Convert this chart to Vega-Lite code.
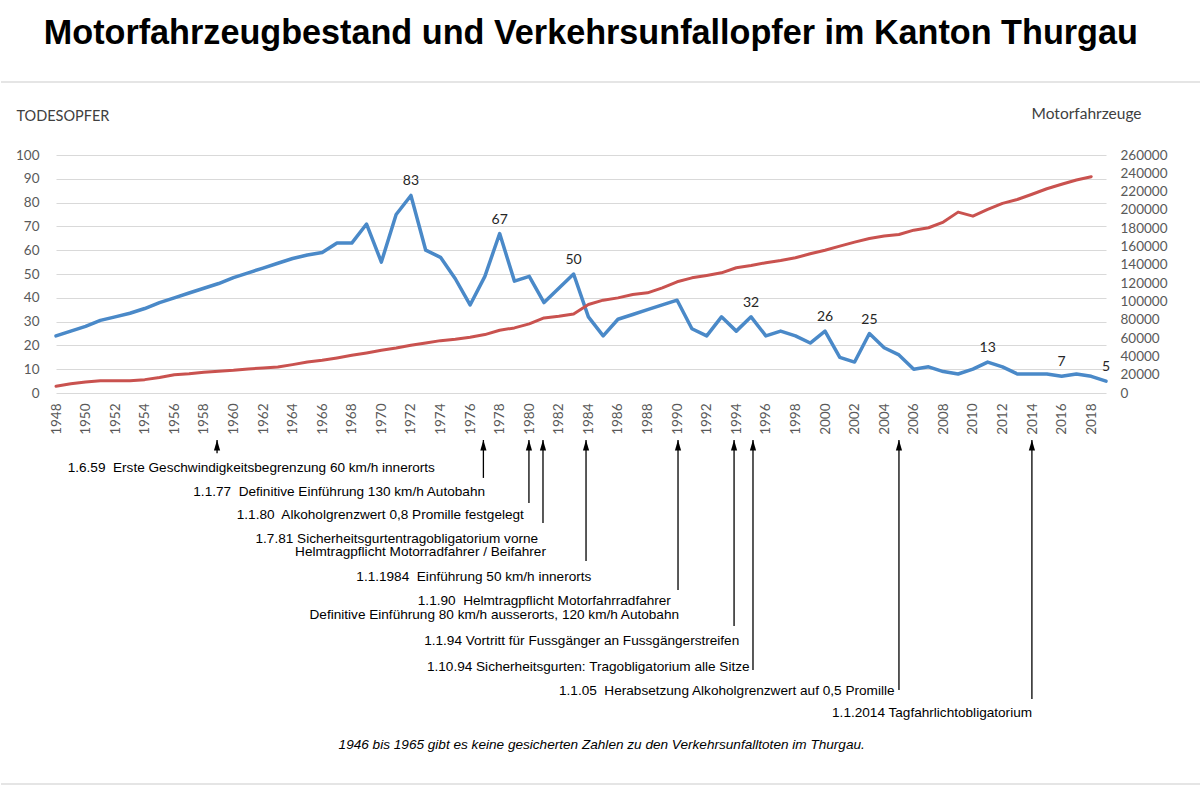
{
  "$schema": "https://vega.github.io/schema/vega-lite/v6.json",
  "background": "white",
  "padding": {"left": 0, "top": 16, "right": 0, "bottom": 5},
  "title": {
    "text": "Motorfahrzeugbestand und Verkehrsunfallopfer im Kanton Thurgau",
    "font": "Liberation Sans",
    "fontSize": 34.2,
    "fontWeight": "bold",
    "color": "#000000",
    "anchor": "middle",
    "dx": -10,
    "offset": 30
  },
  "spacing": 4,
  "config": {
    "view": {"stroke": null},
    "axis": {"labelFont": "Lato", "titleFont": "Lato"}
  },
  "vconcat": [
    {
      "width": 1050,
      "height": 238,
      "data": {
        "values": [
          {"jahr": 1948, "todesopfer": 24, "fahrzeuge": 7300},
          {"jahr": 1949, "todesopfer": 26, "fahrzeuge": 10000},
          {"jahr": 1950, "todesopfer": 28, "fahrzeuge": 12000},
          {"jahr": 1951, "todesopfer": 30.5, "fahrzeuge": 13500},
          {"jahr": 1952, "todesopfer": 32, "fahrzeuge": 13500},
          {"jahr": 1953, "todesopfer": 33.5, "fahrzeuge": 13500},
          {"jahr": 1954, "todesopfer": 35.5, "fahrzeuge": 14600},
          {"jahr": 1955, "todesopfer": 38, "fahrzeuge": 17000},
          {"jahr": 1956, "todesopfer": 40, "fahrzeuge": 20000},
          {"jahr": 1957, "todesopfer": 42, "fahrzeuge": 21000},
          {"jahr": 1958, "todesopfer": 44, "fahrzeuge": 22600},
          {"jahr": 1959, "todesopfer": 46, "fahrzeuge": 23700},
          {"jahr": 1960, "todesopfer": 48.5, "fahrzeuge": 24800},
          {"jahr": 1961, "todesopfer": 50.5, "fahrzeuge": 26300},
          {"jahr": 1962, "todesopfer": 52.5, "fahrzeuge": 27300},
          {"jahr": 1963, "todesopfer": 54.5, "fahrzeuge": 28400},
          {"jahr": 1964, "todesopfer": 56.5, "fahrzeuge": 31000},
          {"jahr": 1965, "todesopfer": 58, "fahrzeuge": 33900},
          {"jahr": 1966, "todesopfer": 59, "fahrzeuge": 35700},
          {"jahr": 1967, "todesopfer": 63, "fahrzeuge": 38300},
          {"jahr": 1968, "todesopfer": 63, "fahrzeuge": 41200},
          {"jahr": 1969, "todesopfer": 71, "fahrzeuge": 43800},
          {"jahr": 1970, "todesopfer": 55, "fahrzeuge": 46700},
          {"jahr": 1971, "todesopfer": 75, "fahrzeuge": 49200},
          {"jahr": 1972, "todesopfer": 83, "fahrzeuge": 52100},
          {"jahr": 1973, "todesopfer": 60, "fahrzeuge": 54700},
          {"jahr": 1974, "todesopfer": 57, "fahrzeuge": 57200},
          {"jahr": 1975, "todesopfer": 48, "fahrzeuge": 58700},
          {"jahr": 1976, "todesopfer": 37, "fahrzeuge": 60900},
          {"jahr": 1977, "todesopfer": 49, "fahrzeuge": 63800},
          {"jahr": 1978, "todesopfer": 67, "fahrzeuge": 68600},
          {"jahr": 1979, "todesopfer": 47, "fahrzeuge": 71100},
          {"jahr": 1980, "todesopfer": 49, "fahrzeuge": 75500},
          {"jahr": 1981, "todesopfer": 38, "fahrzeuge": 82000},
          {"jahr": 1982, "todesopfer": 44, "fahrzeuge": 83900},
          {"jahr": 1983, "todesopfer": 50, "fahrzeuge": 86400},
          {"jahr": 1984, "todesopfer": 32, "fahrzeuge": 96700},
          {"jahr": 1985, "todesopfer": 24, "fahrzeuge": 101400},
          {"jahr": 1986, "todesopfer": 31, "fahrzeuge": 103900},
          {"jahr": 1987, "todesopfer": 33, "fahrzeuge": 107600},
          {"jahr": 1988, "todesopfer": 35, "fahrzeuge": 109400},
          {"jahr": 1989, "todesopfer": 37, "fahrzeuge": 114900},
          {"jahr": 1990, "todesopfer": 39, "fahrzeuge": 121500},
          {"jahr": 1991, "todesopfer": 27, "fahrzeuge": 125800},
          {"jahr": 1992, "todesopfer": 24, "fahrzeuge": 128400},
          {"jahr": 1993, "todesopfer": 32, "fahrzeuge": 131300},
          {"jahr": 1994, "todesopfer": 26, "fahrzeuge": 136800},
          {"jahr": 1995, "todesopfer": 32, "fahrzeuge": 139300},
          {"jahr": 1996, "todesopfer": 24, "fahrzeuge": 142300},
          {"jahr": 1997, "todesopfer": 26, "fahrzeuge": 144800},
          {"jahr": 1998, "todesopfer": 24, "fahrzeuge": 147700},
          {"jahr": 1999, "todesopfer": 21, "fahrzeuge": 152100},
          {"jahr": 2000, "todesopfer": 26, "fahrzeuge": 156000},
          {"jahr": 2001, "todesopfer": 15, "fahrzeuge": 160400},
          {"jahr": 2002, "todesopfer": 13, "fahrzeuge": 164800},
          {"jahr": 2003, "todesopfer": 25, "fahrzeuge": 168800},
          {"jahr": 2004, "todesopfer": 19, "fahrzeuge": 171400},
          {"jahr": 2005, "todesopfer": 16, "fahrzeuge": 173200},
          {"jahr": 2006, "todesopfer": 10, "fahrzeuge": 177900},
          {"jahr": 2007, "todesopfer": 11, "fahrzeuge": 180500},
          {"jahr": 2008, "todesopfer": 9, "fahrzeuge": 186700},
          {"jahr": 2009, "todesopfer": 8, "fahrzeuge": 197600},
          {"jahr": 2010, "todesopfer": 10, "fahrzeuge": 193200},
          {"jahr": 2011, "todesopfer": 13, "fahrzeuge": 200500},
          {"jahr": 2012, "todesopfer": 11, "fahrzeuge": 207200},
          {"jahr": 2013, "todesopfer": 8, "fahrzeuge": 211400},
          {"jahr": 2014, "todesopfer": 8, "fahrzeuge": 217100},
          {"jahr": 2015, "todesopfer": 8, "fahrzeuge": 223100},
          {"jahr": 2016, "todesopfer": 7, "fahrzeuge": 228000},
          {"jahr": 2017, "todesopfer": 8, "fahrzeuge": 232700},
          {"jahr": 2018, "todesopfer": 7, "fahrzeuge": 236300},
          {"jahr": 2019, "todesopfer": 5, "fahrzeuge": null}
        ]
      },
      "encoding": {
        "x": {
          "field": "jahr",
          "type": "quantitative",
          "scale": {"domain": [1948, 2019], "nice": false, "zero": false},
          "axis": {
            "title": null,
            "values": [1948, 1950, 1952, 1954, 1956, 1958, 1960, 1962, 1964, 1966, 1968, 1970, 1972, 1974, 1976, 1978, 1980, 1982, 1984, 1986, 1988, 1990, 1992, 1994, 1996, 1998, 2000, 2002, 2004, 2006, 2008, 2010, 2012, 2014, 2016, 2018],
            "format": "d",
            "labelAngle": -90,
            "labelFlush": false,
            "labelOverlap": false,
            "labelPadding": 10,
            "labelFontSize": 13.5,
            "labelColor": "#595959",
            "grid": false,
            "ticks": false,
            "domain": false
          }
        }
      },
      "layer": [
        {
          "encoding": {
            "y": {
              "field": "todesopfer",
              "type": "quantitative",
              "scale": {"domain": [0, 100], "nice": false},
              "axis": {
                "title": "TODESOPFER",
                "titleAngle": 0,
                "titleAlign": "left",
                "titleBaseline": "alphabetic",
                "titleX": -40,
                "titleY": -35,
                "titleFontSize": 14.5,
                "titleFontWeight": "normal",
                "titleColor": "#404040",
                "values": [0, 10, 20, 30, 40, 50, 60, 70, 80, 90, 100],
                "labelOverlap": false,
                "labelPadding": 17,
                "labelFontSize": 13.5,
                "labelColor": "#595959",
                "grid": true,
                "gridColor": "#d9d9d9",
                "gridWidth": 1.2,
                "ticks": false,
                "domain": false
              }
            }
          },
          "layer": [
            {
              "data": {"values": [{"jahr": 1944.28, "jahr_ende": 2025.4, "todesopfer": 130.7}]},
              "mark": {"type": "rule", "color": "#dcdcdc", "strokeWidth": 1.5},
              "encoding": {
                "x2": {"field": "jahr_ende"}
              }
            },
            {
              "mark": {"type": "line", "color": "#4a89c8", "strokeWidth": 3.5, "strokeJoin": "round", "strokeCap": "round"}
            },
            {
              "transform": [{"filter": {"field": "jahr", "oneOf": [1972, 1978, 1983, 1995, 2000, 2003, 2011, 2016, 2019]}}],
              "mark": {"type": "text", "font": "Lato", "fontSize": 14, "color": "#262626", "dy": -14},
              "encoding": {
                "text": {"field": "todesopfer", "type": "quantitative"}
              }
            }
          ]
        },
        {
          "mark": {"type": "line", "color": "#c9524f", "strokeWidth": 3, "strokeJoin": "round", "strokeCap": "round"},
          "encoding": {
            "y": {
              "field": "fahrzeuge",
              "type": "quantitative",
              "scale": {"domain": [0, 260000], "nice": false},
              "axis": {
                "orient": "right",
                "title": "Motorfahrzeuge",
                "titleAngle": 0,
                "titleAlign": "right",
                "titleBaseline": "alphabetic",
                "titleX": 35,
                "titleY": -37,
                "titleFontSize": 15.5,
                "titleFontWeight": "normal",
                "titleColor": "#404040",
                "values": [0, 20000, 40000, 60000, 80000, 100000, 120000, 140000, 160000, 180000, 200000, 220000, 240000, 260000],
                "format": "d",
                "labelOverlap": false,
                "labelPadding": 14,
                "labelFontSize": 13.5,
                "labelColor": "#595959",
                "grid": false,
                "ticks": false,
                "domain": false
              }
            }
          }
        }
      ],
      "resolve": {"scale": {"y": "independent"}}
    },
    {
      "width": 1050,
      "height": 312,
      "layer": [
        {
          "data": {
            "values": [
              {"stichtag": "1.6.59", "jahr": 1958.89, "von": 0, "bis": 0.55},
              {"stichtag": "1.1.77", "jahr": 1976.9, "von": 0, "bis": 1.58},
              {"stichtag": "1.1.80", "jahr": 1979.98, "von": 0, "bis": 2.62},
              {"stichtag": "1.7.81", "jahr": 1980.93, "von": 0, "bis": 3.46},
              {"stichtag": "1.1.1984", "jahr": 1983.84, "von": 0, "bis": 5.04},
              {"stichtag": "1.1.90", "jahr": 1990.06, "von": 0, "bis": 6.25},
              {"stichtag": "1.1.94", "jahr": 1993.85, "von": 0, "bis": 7.75},
              {"stichtag": "1.10.94", "jahr": 1995.13, "von": 0, "bis": 9.58},
              {"stichtag": "1.1.05", "jahr": 2005.0, "von": 0, "bis": 10.42},
              {"stichtag": "1.1.2014", "jahr": 2013.99, "von": 0, "bis": 10.79}
            ]
          },
          "layer": [
            {
              "mark": {"type": "rule", "color": "#000000", "strokeWidth": 1.3},
              "encoding": {
                "x": {"field": "jahr", "type": "quantitative", "scale": {"domain": [1948, 2019], "nice": false, "zero": false}, "axis": null},
                "y": {"field": "von", "type": "quantitative", "scale": {"domain": [0, 13], "reverse": true, "nice": false, "zero": false}, "axis": null},
                "y2": {"field": "bis"}
              }
            },
            {
              "mark": {"type": "point", "shape": "M0,0L0.62,2.1L-0.62,2.1Z", "filled": true, "color": "#000000", "opacity": 1, "size": 100},
              "encoding": {
                "x": {"field": "jahr", "type": "quantitative"},
                "y": {"field": "von", "type": "quantitative"}
              }
            }
          ]
        },
        {
          "data": {
            "values": [
              {"beschriftung": "1.1.77\u00a0 Definitive Einführung 130 km/h Autobahn", "jahr": 1977.01, "ebene": 2.17},
              {"beschriftung": "1.1.80\u00a0 Alkoholgrenzwert 0,8 Promille festgelegt", "jahr": 1979.64, "ebene": 3.125},
              {"beschriftung": "1.7.81 Sicherheitsgurtentragobligatorium vorne", "jahr": 1980.6, "ebene": 4.125},
              {"beschriftung": "Helmtragpflicht Motorradfahrer / Beifahrer", "jahr": 1981.13, "ebene": 4.67},
              {"beschriftung": "1.1.1984\u00a0 Einführung 50 km/h innerorts", "jahr": 1984.2, "ebene": 5.71},
              {"beschriftung": "1.1.90\u00a0 Helmtragpflicht Motorfahrradfahrer", "jahr": 1989.58, "ebene": 6.69},
              {"beschriftung": "Definitive Einführung 80 km/h ausserorts, 120 km/h Autobahn", "jahr": 1990.13, "ebene": 7.29},
              {"beschriftung": "1.1.94 Vortritt für Fussgänger an Fussgängerstreifen", "jahr": 1994.2, "ebene": 8.375},
              {"beschriftung": "1.10.94 Sicherheitsgurten: Tragobligatorium alle Sitze", "jahr": 1994.9, "ebene": 9.46},
              {"beschriftung": "1.1.05\u00a0 Herabsetzung Alkoholgrenzwert auf 0,5 Promille", "jahr": 2004.7, "ebene": 10.46},
              {"beschriftung": "1.1.2014 Tagfahrlichtobligatorium", "jahr": 2014.0, "ebene": 11.375}
            ]
          },
          "mark": {"type": "text", "align": "right", "baseline": "middle", "font": "Liberation Sans", "fontSize": 13.6, "color": "#000000"},
          "encoding": {
            "x": {"field": "jahr", "type": "quantitative"},
            "y": {"field": "ebene", "type": "quantitative"},
            "text": {"field": "beschriftung"}
          }
        },
        {
          "data": {
            "values": [
              {"beschriftung": "1.6.59\u00a0 Erste Geschwindigkeitsbegrenzung 60 km/h innerorts", "jahr": 1948.79, "ebene": 1.17}
            ]
          },
          "mark": {"type": "text", "align": "left", "baseline": "middle", "font": "Liberation Sans", "fontSize": 13.6, "color": "#000000"},
          "encoding": {
            "x": {"field": "jahr", "type": "quantitative"},
            "y": {"field": "ebene", "type": "quantitative"},
            "text": {"field": "beschriftung"}
          }
        },
        {
          "data": {
            "values": [
              {"beschriftung": "1946 bis 1965 gibt es keine gesicherten Zahlen zu den Verkehrsunfalltoten im Thurgau.", "jahr": 1984.9, "ebene": 12.7}
            ]
          },
          "mark": {"type": "text", "align": "center", "baseline": "middle", "font": "Liberation Sans", "fontSize": 13.6, "fontStyle": "italic", "color": "#000000"},
          "encoding": {
            "x": {"field": "jahr", "type": "quantitative"},
            "y": {"field": "ebene", "type": "quantitative"},
            "text": {"field": "beschriftung"}
          }
        },
        {
          "data": {"values": [{"anfang": 1944.28, "ende": 2025.4, "hoehe": 14.33}]},
          "mark": {"type": "rule", "color": "#dcdcdc", "strokeWidth": 1.5},
          "encoding": {
            "x": {"field": "anfang", "type": "quantitative"},
            "x2": {"field": "ende"},
            "y": {"field": "hoehe", "type": "quantitative"}
          }
        }
      ]
    }
  ]
}
